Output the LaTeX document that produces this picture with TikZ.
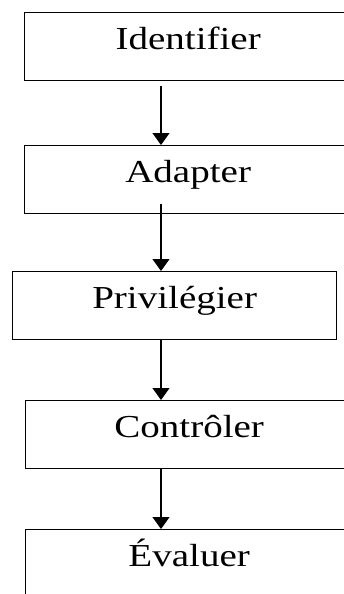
\documentclass[tikz,border=0pt]{standalone}
\usepackage{fontspec}
\setmainfont{Liberation Serif}
\usetikzlibrary{arrows.meta}

\newcommand{\wide}[1]{\scalebox{1.22}[1]{#1}}

\begin{document}
\begin{tikzpicture}[x=1pt, y=1pt,
    etape/.style={draw, line width=1.3pt, inner sep=0pt, anchor=north west,
        text height=37pt, text depth=31pt,
        font=\fontsize{32}{38}\selectfont},
    fleche/.style={line width=1.2pt, -{Triangle[length=12pt, width=17pt]}}]
    \useasboundingbox (0,0) rectangle (343,-594);

    \node[etape, minimum width=327pt] (ident) at (24,-12) {\wide{Identifier}};
    \node[etape, minimum width=327pt] (adapt) at (24,-145) {\wide{Adapter}};
    \node[etape, minimum width=324pt] (privil) at (12,-271) {\wide{Privilégier}};
    \node[etape, minimum width=327pt] (contr) at (25,-400) {\wide{Contrôler}};
    \node[etape, minimum width=327pt] (evalu) at (25,-529) {\wide{Évaluer}};

    \coordinate (axe) at (161,0);

    \draw[fleche] ([yshift=-5pt]ident.south -| axe) -- (adapt.north -| axe);
    \draw[fleche] ([yshift=10pt]adapt.south -| axe) -- (privil.north -| axe);
    \draw[fleche] (privil.south -| axe) -- (contr.north -| axe);
    \draw[fleche] (contr.south -| axe) -- (evalu.north -| axe);
\end{tikzpicture}
\end{document}
